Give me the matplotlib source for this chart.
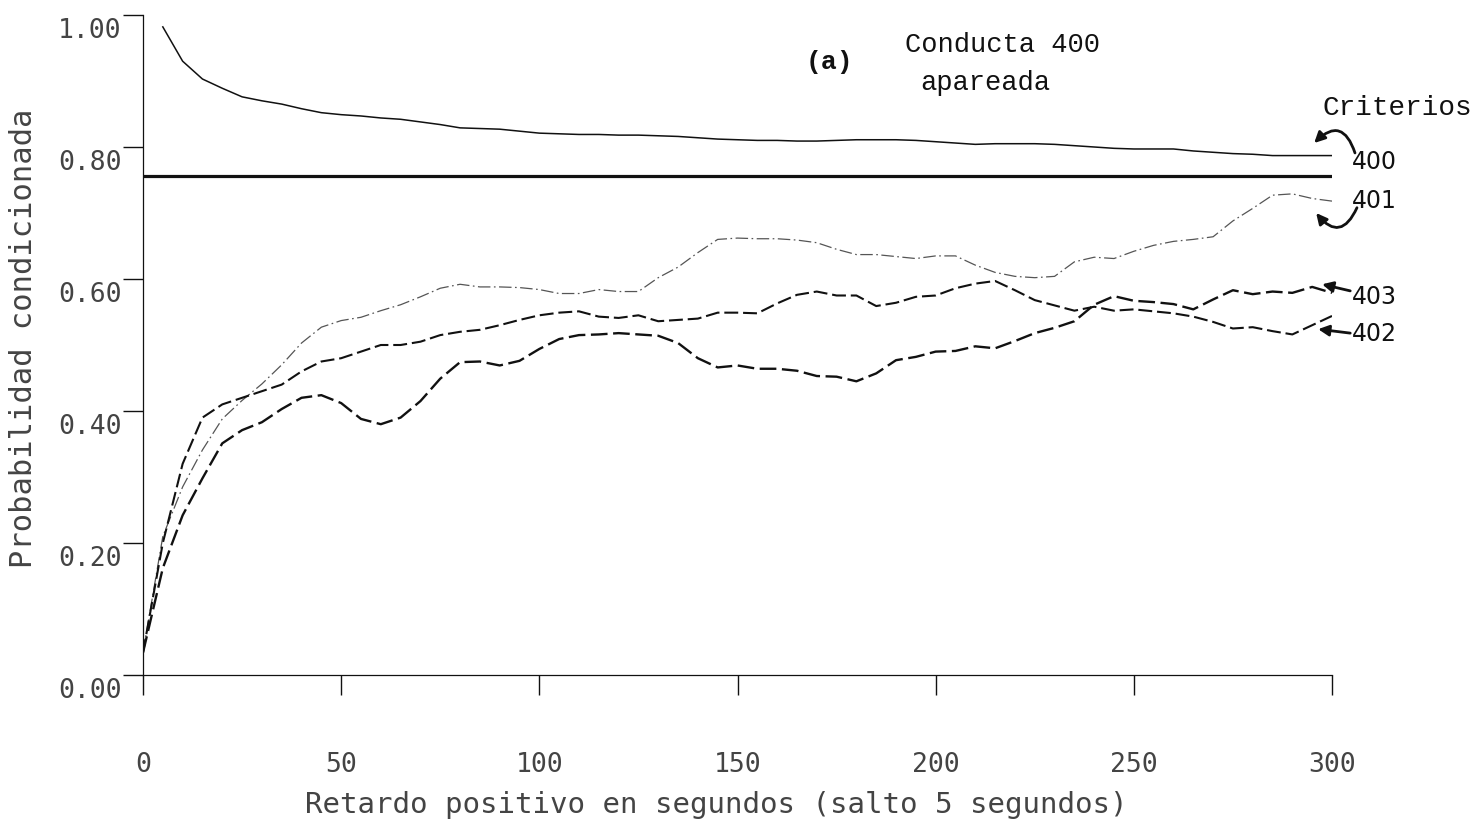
import matplotlib
matplotlib.use('Agg')
import matplotlib.pyplot as plt
import matplotlib.transforms as mtransforms
from matplotlib.ticker import FormatStrFormatter

# retardos (s), salto de 5 segundos
lags = list(range(0, 301, 5))
lags_400 = lags[1:]

# probabilidad condicionada por criterio
crit_400 = [0.982, 0.930, 0.903, 0.889, 0.876, 0.870, 0.865, 0.858, 0.852, 0.849,
            0.847, 0.844, 0.842, 0.838, 0.834, 0.829, 0.828, 0.827, 0.824, 0.821,
            0.820, 0.819, 0.819, 0.818, 0.818, 0.817, 0.816, 0.814, 0.812, 0.811,
            0.810, 0.810, 0.809, 0.809, 0.810, 0.811, 0.811, 0.811, 0.810, 0.808,
            0.806, 0.804, 0.805, 0.805, 0.805, 0.804, 0.802, 0.800, 0.798, 0.797,
            0.797, 0.797, 0.794, 0.792, 0.790, 0.789, 0.787, 0.787, 0.787, 0.787]

crit_401 = [0.034, 0.210, 0.285, 0.341, 0.388, 0.416, 0.441, 0.470, 0.503, 0.527,
            0.537, 0.542, 0.552, 0.561, 0.573, 0.586, 0.592, 0.588, 0.588, 0.587,
            0.584, 0.578, 0.578, 0.584, 0.581, 0.581, 0.602, 0.618, 0.640, 0.660,
            0.662, 0.661, 0.661, 0.659, 0.655, 0.645, 0.637, 0.637, 0.634, 0.631,
            0.635, 0.635, 0.621, 0.610, 0.604, 0.602, 0.604, 0.626, 0.633, 0.631,
            0.642, 0.651, 0.657, 0.660, 0.664, 0.688, 0.707, 0.727, 0.729, 0.722,
            0.718]

crit_402 = [0.034, 0.200, 0.320, 0.390, 0.410, 0.420, 0.430, 0.440, 0.460, 0.475,
            0.480, 0.490, 0.500, 0.500, 0.505, 0.515, 0.520, 0.523, 0.530, 0.538,
            0.545, 0.549, 0.551, 0.543, 0.541, 0.545, 0.536, 0.538, 0.540, 0.549,
            0.549, 0.548, 0.563, 0.576, 0.581, 0.575, 0.575, 0.559, 0.564, 0.573,
            0.575, 0.586, 0.593, 0.597, 0.583, 0.568, 0.560, 0.552, 0.558, 0.552,
            0.554, 0.551, 0.548, 0.543, 0.535, 0.525, 0.527, 0.521, 0.516, 0.530,
            0.544]

crit_403 = [0.034, 0.162, 0.242, 0.298, 0.351, 0.371, 0.383, 0.403, 0.420, 0.424,
            0.412, 0.388, 0.380, 0.390, 0.415, 0.449, 0.474, 0.475, 0.469, 0.476,
            0.494, 0.509, 0.515, 0.516, 0.518, 0.516, 0.514, 0.503, 0.480, 0.466,
            0.469, 0.464, 0.464, 0.461, 0.453, 0.452, 0.445, 0.457, 0.477, 0.482,
            0.490, 0.491, 0.498, 0.495, 0.506, 0.518, 0.526, 0.536, 0.561, 0.574,
            0.567, 0.565, 0.562, 0.554, 0.569, 0.583, 0.577, 0.581, 0.579, 0.588,
            0.579]

chance_400 = 0.756

plt.rcParams['lines.scale_dashes'] = False

W, H = 1475, 837
fig = plt.figure(figsize=(W / 100, H / 100), dpi=100)
ax = fig.add_axes([143 / W, 1 - 676 / H, (1332 - 143) / W, (676 - 16) / H])

ink = '#111111'
ax.plot(lags_400, crit_400, color=ink, lw=1.1)
ax.hlines(chance_400, 0, 300, color=ink, lw=2.3)
ax.plot(lags, crit_401, color='#555555', lw=0.9, dashes=(9, 2.5, 1.2, 2.5))
ax.plot(lags, crit_402, color=ink, lw=1.5, dashes=(10, 3.5))
ax.plot(lags, crit_403, color=ink, lw=1.7, dashes=(12, 4))

ax.set_xlim(0, 300)
ax.set_ylim(0, 1.0)
ax.set_xticks(range(0, 301, 50))
ax.set_yticks([0, 0.2, 0.4, 0.6, 0.8, 1.0])
ax.yaxis.set_major_formatter(FormatStrFormatter('%.2f'))

for s in ['top', 'right']:
    ax.spines[s].set_visible(False)
for s in ['left', 'bottom']:
    ax.spines[s].set_linewidth(0.9)
    ax.spines[s].set_color(ink)

ax.tick_params(axis='both', direction='out', length=14.4, width=1.0, color=ink)
ax.tick_params(axis='x', pad=40)
ax.tick_params(axis='y', pad=1)
for lab in ax.get_xticklabels() + ax.get_yticklabels():
    lab.set_fontfamily('DejaVu Sans Mono')
    lab.set_fontsize(19)
    lab.set_color('#444444')

# etiquetas del eje y un poco por debajo de la marca, como en el original
shift = mtransforms.ScaledTranslation(0, -0.12, fig.dpi_scale_trans)
for lab in ax.get_yticklabels():
    lab.set_transform(lab.get_transform() + shift)

fig.text(716 / W, 1 - 805 / H, 'Retardo positivo en segundos (salto 5 segundos)',
         ha='center', va='center', family='DejaVu Sans Mono', size=21, color='#444444')
fig.text(24 / W, 1 - 338 / H, 'Probabilidad condicionada', rotation=90,
         ha='center', va='center', family='DejaVu Sans Mono', size=22, color='#444444')

# titulo
fig.text(806 / W, 1 - 62 / H, '(a)', ha='left', va='center',
         family='Liberation Mono', weight='bold', size=19, color=ink)
fig.text(905 / W, 1 - 45 / H, 'Conducta 400', ha='left', va='center',
         family='Liberation Mono', size=19.5, color=ink)
fig.text(920 / W, 1 - 83 / H, 'apareada', ha='left', va='center',
         family='Liberation Mono', size=19.5, color=ink)
fig.text(1322 / W, 1 - 108 / H, 'Criterios', ha='left', va='center',
         family='Liberation Mono', size=20, color=ink)

# rotulos de criterio con flechas
lab_font = dict(family=['DejaVu Sans'], size=17, color=ink, va='center', ha='left')
ax.text(305, 0.779, '400', **lab_font, clip_on=False)
ax.text(305, 0.720, '401', **lab_font, clip_on=False)
ax.text(305, 0.574, '403', **lab_font, clip_on=False)
ax.text(305, 0.518, '402', **lab_font, clip_on=False)

arrows = [
    ((305.8, 0.791), (295.5, 0.806), 0.8),
    ((306.3, 0.708), (296.0, 0.700), -0.8),
    ((304.6, 0.582), (297.5, 0.592), 0.0),
    ((304.6, 0.518), (296.5, 0.524), 0.0),
]
for tail, head, rad in arrows:
    ax.annotate('', xy=head, xytext=tail, annotation_clip=False,
                arrowprops=dict(arrowstyle='-|>', color=ink, lw=2.0,
                                mutation_scale=16, shrinkA=0, shrinkB=0,
                                connectionstyle=f'arc3,rad={rad}'))

fig.savefig('out.png', dpi=100)
